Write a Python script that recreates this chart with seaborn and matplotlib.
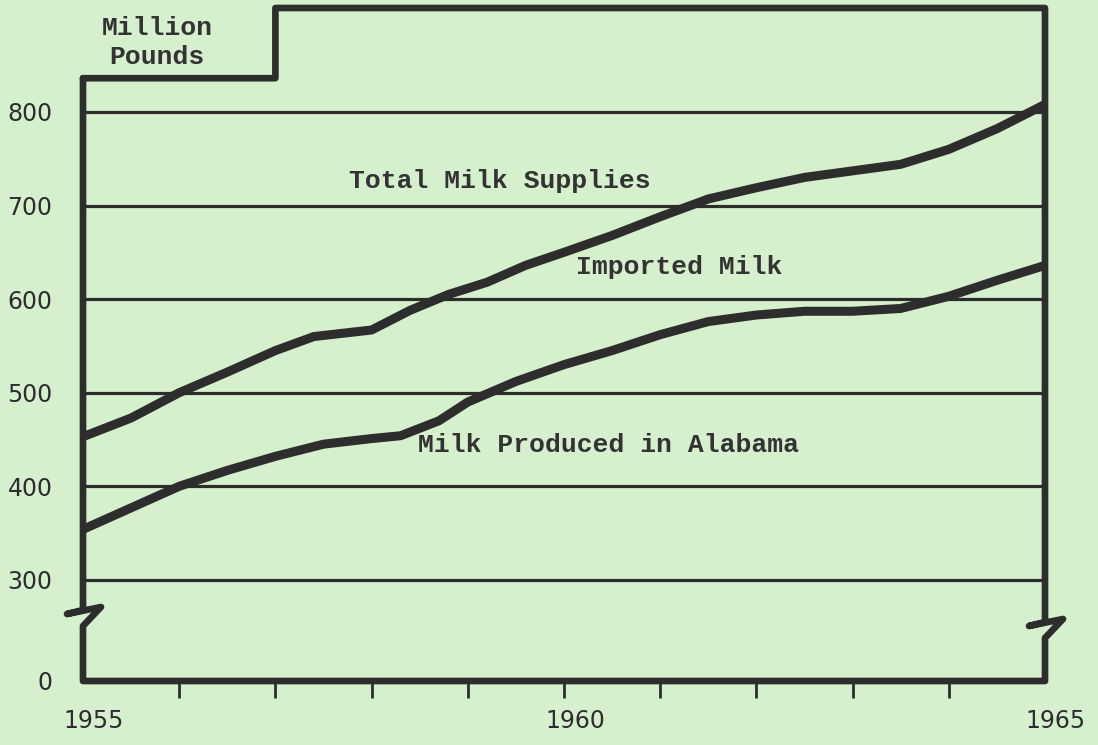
import numpy as np
import pandas as pd
import seaborn as sns
import matplotlib.pyplot as plt
from matplotlib.transforms import ScaledTranslation

# Milk supplies in Alabama, million pounds
years_total = [1955.0, 1955.5, 1956.0, 1956.5, 1957.0, 1957.4, 1958.0, 1958.4, 1958.8, 1959.2, 1959.6,
               1960.0, 1960.5, 1961.0, 1961.5, 1962.0, 1962.5, 1963.0, 1963.5, 1964.0, 1964.5, 1965.0]
total_supplies = [453, 473, 500, 522, 545, 560, 567, 588, 605, 618, 636,
                  650, 668, 688, 707, 719, 730, 737, 744, 760, 782, 808]

years_alabama = [1955.0, 1955.5, 1956.0, 1956.5, 1957.0, 1957.5, 1958.0, 1958.3, 1958.7, 1959.0, 1959.5,
                 1960.0, 1960.5, 1961.0, 1961.5, 1962.0, 1962.5, 1963.0, 1963.5, 1964.0, 1964.5, 1965.0]
produced_alabama = [354, 377, 400, 417, 432, 445, 451, 454, 470, 490, 512,
                    530, 545, 562, 576, 583, 587, 587, 590, 603, 620, 636]

ytick_values = [0, 300, 400, 500, 600, 700, 800]
xtick_years = list(range(1955, 1966))
xtick_labels = {1955: "1955", 1960: "1960", 1965: "1965"}

# layout of the broken axis
y_zero_pos = 192      # where "0" sits below the break
y_top_left = 836
y_top = 911
step_year = 1957
x0, x1 = 1955, 1965

bg = "#d6efcd"
ink = "#2d2d2d"
typewriter = ["Liberation Mono", "DejaVu Sans Mono"]

sns.set_theme(style="white")
plt.rcParams["font.family"] = ["DejaVu Sans"]

fig = plt.figure(figsize=(10.98, 7.45), dpi=100, facecolor=bg)
ax = fig.add_axes([83 / 1098, (745 - 681) / 745, (1045 - 83) / 1098, (681 - 8) / 745])
ax.set_facecolor("none")
ax.set_xlim(x0, x1)
ax.set_ylim(y_zero_pos, y_top)

# pixel size in data units, for the break marks
px_x = (x1 - x0) / 962
px_y = (y_top - y_zero_pos) / 673

# horizontal rules
for v in ytick_values[1:]:
    ax.axhline(v, color=ink, lw=2.3, zorder=1)

df_total = pd.DataFrame({"year": years_total, "value": total_supplies})
df_al = pd.DataFrame({"year": years_alabama, "value": produced_alabama})
sns.lineplot(data=df_total, x="year", y="value", ax=ax, color=ink, lw=6.5, estimator=None,
             solid_capstyle="butt", solid_joinstyle="round", zorder=3, clip_on=False)
sns.lineplot(data=df_al, x="year", y="value", ax=ax, color=ink, lw=6.5, estimator=None,
             solid_capstyle="butt", solid_joinstyle="round", zorder=3, clip_on=False)

# frame with the break symbols
def zigzag(xc, yc):
    pts = [(0, 0), (-16, 4), (18, -3), (0, 16)]
    return [(xc + dx * px_x, yc - dy * px_y) for dx, dy in pts]

y_break_left = y_zero_pos + 71 * px_y
y_break_right = y_zero_pos + 59 * px_y
frame = [(x0, y_top_left)]
frame += zigzag(x0, y_break_left)
frame += [(x0, y_zero_pos), (x1, y_zero_pos)]
frame += zigzag(x1, y_break_right)[::-1]
frame += [(x1, y_top), (step_year, y_top), (step_year, y_top_left), (x0, y_top_left)]
fx, fy = zip(*frame)
ax.plot(fx, fy, color=ink, lw=4.8, solid_joinstyle="round", clip_on=False, zorder=4)

for s in ax.spines.values():
    s.set_visible(False)

# ticks
ypos = [y_zero_pos if v == 0 else v for v in ytick_values]
ax.set_yticks(ypos)
ax.set_yticklabels([str(v) for v in ytick_values])
ax.tick_params(axis="y", left=True, length=0, pad=22, labelsize=17, labelcolor=ink)
ax.set_xticks(xtick_years)
ax.set_xticklabels([xtick_labels.get(y, "") for y in xtick_years])
ax.tick_params(axis="x", bottom=True, length=12, width=2, color=ink, direction="out", pad=8,
               labelsize=17, labelcolor=ink)
xt = ax.xaxis.get_major_ticks()
xt[0].tick1line.set_visible(False)
xt[-1].tick1line.set_visible(False)
shift = ScaledTranslation(11 / 100, 0, fig.dpi_scale_trans)
for lbl in ax.get_xticklabels():
    lbl.set_transform(lbl.get_transform() + shift)
ax.set_xlabel("")
ax.set_ylabel("")
ax.grid(False)

# series labels
lab = dict(ha="center", va="center", fontsize=19, family=typewriter, color="#333333", fontweight="bold")
ax.text(1959.33, 726, "Total Milk Supplies", **lab)
ax.text(1961.2, 634, "Imported Milk", **lab)
ax.text(1960.46, 444, "Milk Produced in Alabama", **lab)
ax.text(1955.77, 874, "Million\nPounds", linespacing=1.25, **lab)

fig.savefig("out.png", dpi=100, facecolor=bg)
